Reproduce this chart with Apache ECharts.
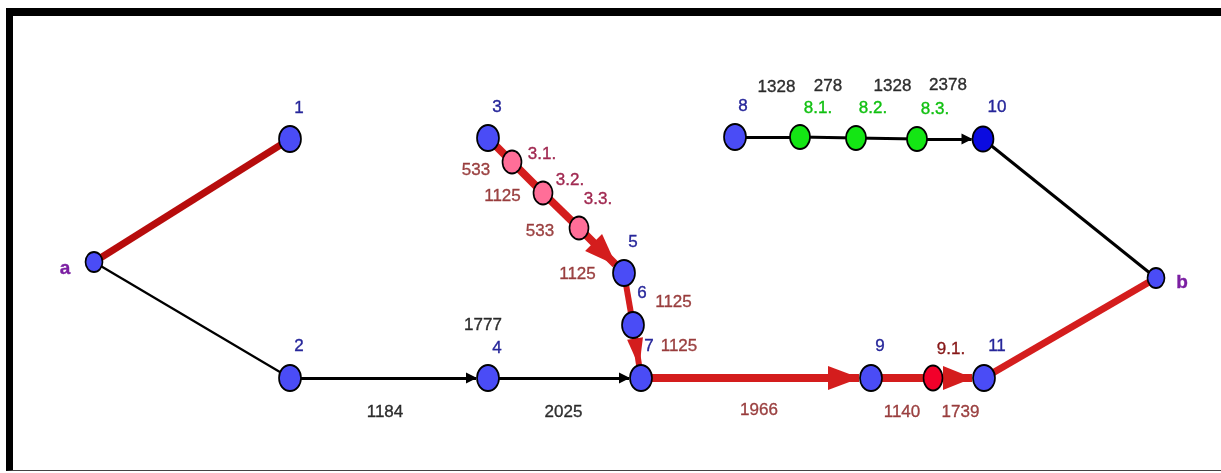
<!DOCTYPE html>
<html>
<head>
<meta charset="utf-8">
<script src="https://cdn.jsdelivr.net/npm/echarts@6/dist/echarts.min.js"></script>
<style>
  html, body { margin: 0; padding: 0; background: #fff; }
  #my-network-chart { position: absolute; left: 0; top: 0; width: 1221px; height: 473px; }
  #frame {
    position: absolute; left: 6px; top: 8px; width: 1215px; height: 463px;
    border-top: 8px solid #000; border-left: 7px solid #000; border-bottom: 1px solid #444;
    box-sizing: border-box; pointer-events: none;
  }
</style>
</head>
<body>
<div id="my-network-chart"></div>
<div id="frame"></div>
<script>
// nodes of the network (position, in picture pixels)
const nodeNames = ['a', '1', '2', '3', '3.1.', '3.2.', '3.3.', '4', '5', '6', '7',
                   '8', '8.1.', '8.2.', '8.3.', '9', '9.1.', '10', '11', 'b'];
const nodeX = [94, 290, 290, 488, 512, 543, 579, 488, 624, 633, 641,
               735, 800, 856, 917, 871, 933, 983, 984, 1156];
const nodeY = [262, 139, 378, 138, 162, 193, 228, 378, 273, 325, 378,
               137, 137, 138, 139, 378, 378, 139, 378, 278];
const nodeKind = ['end', 'main', 'main', 'main', 'sub3', 'sub3', 'sub3', 'main', 'main', 'main', 'main',
                  'main', 'sub8', 'sub8', 'sub8', 'main', 'sub9', 'dark', 'main', 'end'];

// edges: from, to, weight (null = no label), on critical path, directed
const edgeFrom = ['a', 'a', '2', '4', '7', '9', '9.1.', '11', '3', '3.1.', '3.2.', '3.3.', '5', '6',
                  '8', '8.1.', '8.2.', '8.3.', '10'];
const edgeTo = ['1', '2', '4', '7', '9', '9.1.', '11', 'b', '3.1.', '3.2.', '3.3.', '5', '6', '7',
                '8.1.', '8.2.', '8.3.', '10', 'b'];
const edgeWeights = [null, null, 1184, 2025, 1966, 1140, 1739, null, 533, 1125, 533, 1125, 1125, 1125,
                     1328, 278, 1328, 2378, null];
const edgeCritical = [1, 0, 0, 0, 1, 1, 1, 1, 1, 1, 1, 1, 1, 1, 0, 0, 0, 0, 0];
const edgeDirected = [0, 0, 1, 1, 1, 0, 1, 0, 0, 0, 0, 1, 0, 1, 0, 0, 0, 1, 0];

// extra note above node 4
const noteNodes = ['4'];
const noteTexts = ['1777'];

// ---- styles ----
const FONT = '"Liberation Sans", Arial, sans-serif';
const ELLIPSE = 'path://M0,12a11,12 0 1,0 22,0a11,12 0 1,0 -22,0';
const kindStyle = {
    main: { size: [22, 26], color: '#4a4cf6', label: '#26269a' },
    dark: { size: [21, 25], color: '#0b0be0', label: '#26269a' },
    end:  { size: [17, 20], color: '#4a4cf6', label: '#7b1fa2', bold: true },
    sub3: { size: [19, 23], color: '#ff6e98', label: '#a02850' },
    sub8: { size: [20, 24], color: '#14e614', label: '#10c010' },
    sub9: { size: [19, 25], color: '#f2002a', label: '#861616' }
};
// node label offset from the node centre
const nodeLabelOffset = {
    'a': [-29, 7], '1': [9, -31], '2': [9, -32], '3': [9, -31], '3.1.': [30, -8], '3.2.': [27, -13],
    '3.3.': [19, -29], '4': [9, -30], '5': [9, -31], '6': [9, -32], '7': [8, -32], '8': [8, -31],
    '8.1.': [18, -29], '8.2.': [17, -30], '8.3.': [18, -30], '9': [9, -32], '9.1.': [18, -29],
    '10': [14, -32], '11': [13, -32], 'b': [26, 5]
};
// weight label offset from the edge middle
const weightOffset = [null, null, [-4, 34], [-1, 34], [3, 32], [0, 34], [2, 34], null,
    [-24, 20], [-25, 19], [-21, 21], [-24, 24], [45, 3], [42, -5],
    [9, -50], [0, -51], [6, -52], [-2, -54], null];
const noteOffset = [[-5, -53]];

// arrow size per directed edge [length, width]
function arrowDims(i) {
    if (!edgeCritical[i]) return [11, 11];
    if (edgeTo[i] === '7') return [29, 16];
    if (edgeFrom[i] === '9.1.') return [30, 24];
    return [32, 24];
}

const SHRINK = 0.5;   // echarts pulls an arrowed edge end back by half the node size

// triangle whose tip touches the target node border; an extra moveTo point
// shifts the symbol box so the tip lands on the border
function arrowSymbol(len, wid, targetSize) {
    const s = targetSize * SHRINK;
    const r = targetSize / 2 - 1;
    const d = s - r;
    const w2 = wid / 2;
    if (d <= len / 2) {
        const k = len - 2 * d;
        return {
            symbol: 'path://M' + w2 + ',0M' + w2 + ',' + k + 'L' + wid + ',' + (k + len) + 'L0,' + (k + len) + 'Z',
            size: [wid, k + len]
        };
    }
    const m = 2 * d - len;
    return {
        symbol: 'path://M' + w2 + ',' + (len + m) + 'M' + w2 + ',0L' + wid + ',' + len + 'L0,' + len + 'Z',
        size: [wid, len + m]
    };
}

const idx = {};
nodeNames.forEach((n, i) => { idx[n] = i; });

// slightly heavier text, like the soft labels of the picture
function textLook(color) {
    return { color: color, textBorderColor: color, textBorderWidth: 0.35, textShadowBlur: 0 };
}

const graphNodes = nodeNames.map((n, i) => {
    const st = kindStyle[nodeKind[i]];
    return {
        name: n,
        value: [nodeX[i], nodeY[i]],
        symbolSize: st.size,
        itemStyle: { color: st.color },
        label: Object.assign({
            offset: nodeLabelOffset[n],
            fontWeight: st.bold ? 'bold' : 'normal',
            fontSize: st.bold ? 19 : 17
        }, textLook(st.label))
    };
});

const graphLinks = edgeFrom.map((f, i) => {
    const t = edgeTo[i];
    const link = {
        source: f,
        target: t,
        lineStyle: edgeCritical[i]
            ? { color: (f === 'a' ? '#b70c0c' : '#d41d1d'), width: (t === '6' || (f === '6' && t === '7')) ? 6 : (f === 'a' || f === '11' ? 7 : 8), opacity: 1 }
            : { color: '#000', width: (f === 'a' ? 2.2 : 3), opacity: 1 }
    };
    if (edgeDirected[i]) {
        const dims = arrowDims(i);
        const tSize = kindStyle[nodeKind[idx[t]]].size;
        const a = arrowSymbol(dims[0], dims[1], (tSize[0] + tSize[1]) / 2);
        link.symbol = ['none', a.symbol];
        link.symbolSize = [1, a.size];
    }
    return link;
});

const weightPoints = [];
edgeWeights.forEach((w, i) => {
    if (w === null) return;
    const p = idx[edgeFrom[i]], q = idx[edgeTo[i]];
    weightPoints.push({
        value: [(nodeX[p] + nodeX[q]) / 2, (nodeY[p] + nodeY[q]) / 2, w],
        label: Object.assign({ offset: weightOffset[i] }, textLook(edgeCritical[i] ? '#841616' : '#000'))
    });
});
noteNodes.forEach((n, i) => {
    weightPoints.push({
        value: [nodeX[idx[n]], nodeY[idx[n]], noteTexts[i]],
        label: Object.assign({ offset: noteOffset[i] }, textLook('#000'))
    });
});

const option = {
    animation: false,
    textStyle: { fontFamily: FONT },
    grid: { left: 0, right: 0, top: 0, bottom: 0 },
    xAxis: { type: 'value', min: 0, max: 1221, show: false },
    yAxis: { type: 'value', min: 0, max: 473, inverse: true, show: false },
    series: [
        {
            type: 'graph',
            coordinateSystem: 'cartesian2d',
            symbol: ELLIPSE,
            itemStyle: { borderColor: '#000', borderWidth: 1.8 },
            label: {
                show: true,
                position: 'inside',
                fontFamily: FONT,
                formatter: '{b}'
            },
            emphasis: { disabled: true },
            data: graphNodes,
            links: graphLinks
        },
        {
            type: 'scatter',
            symbolSize: 0,
            silent: true,
            data: weightPoints,
            label: {
                show: true,
                position: 'inside',
                fontFamily: FONT,
                fontSize: 17,
                formatter: (p) => String(p.value[2])
            }
        }
    ]
};

const chart = echarts.init(document.getElementById('my-network-chart'));
chart.setOption(option);
window.addEventListener('resize', () => {
    chart.resize();
});
</script>
</body>
</html>
